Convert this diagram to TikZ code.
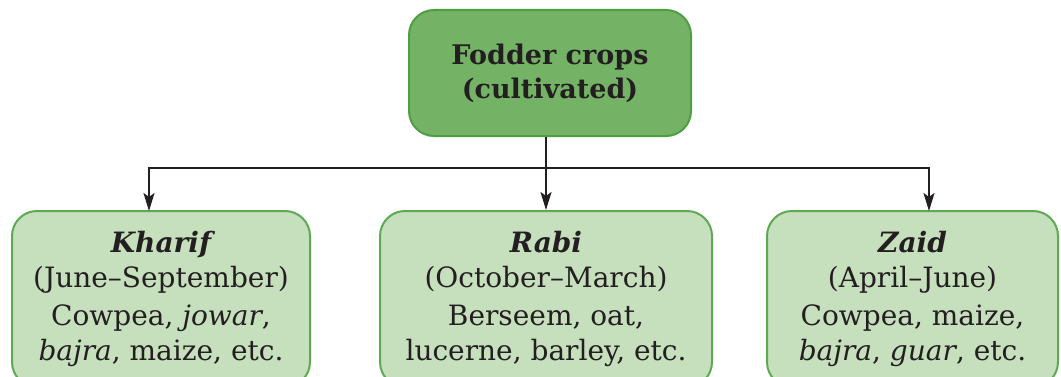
\documentclass[tikz,border=0pt]{standalone}
\usepackage{fontspec}
\setmainfont{DejaVu Serif}
\usetikzlibrary{arrows.meta}
\definecolor{topfill}{HTML}{74B266}
\definecolor{topdraw}{HTML}{4E9E44}
\definecolor{boxfill}{HTML}{C6DFBD}
\definecolor{boxdraw}{HTML}{5DAA52}
\definecolor{ink}{HTML}{231F20}
\begin{document}
\begin{tikzpicture}[x=1pt,y=1pt,
  topbox/.style={draw=topdraw, fill=topfill, line width=2pt, rounded corners=25pt,
    minimum width=282pt, minimum height=126pt, inner sep=0pt, align=center,
    font=\fontsize{27}{34}\selectfont\bfseries, text=ink},
  seasonbox/.style={draw=boxdraw, fill=boxfill, line width=2pt, rounded corners=25pt,
    minimum height=176pt, inner sep=0pt, align=center,
    font=\fontsize{28}{35}\selectfont, text=ink},
  conn/.style={draw=ink, line width=2.2pt},
  arr/.style={conn, -{Stealth[length=18pt,width=11pt,inset=4pt]}}
]
\clip (0,0) rectangle (1061,376);
\fill[white] (0,0) rectangle (1061,376);
\node[topbox] (top) at (550,303) {Fodder crops\\(cultivated)};
\node[seasonbox, minimum width=298pt] (kharif) at (161,77)
  {{\bfseries\itshape Kharif}\\(June--September)\\[3pt]Cowpea, \textit{jowar},\\\textit{bajra}, maize, etc.};
\node[seasonbox, minimum width=332pt] (rabi) at (546,77)
  {{\bfseries\itshape Rabi}\\(October--March)\\[3pt]Berseem, oat,\\lucerne, barley, etc.};
\node[seasonbox, minimum width=291pt] (zaid) at (912.5,77)
  {{\bfseries\itshape Zaid}\\(April--June)\\[3pt]Cowpea, maize,\\\textit{bajra}, \textit{guar}, etc.};
\coordinate (j) at (546,208);
\coordinate (ka) at (149,165);
\coordinate (za) at (929,165);
\draw[conn] (top.south -| j) -- (j);
\draw[arr] (j) -| (ka);
\draw[arr] (j) -- (rabi.north);
\draw[arr] (j) -| (za);
\end{tikzpicture}
\end{document}
